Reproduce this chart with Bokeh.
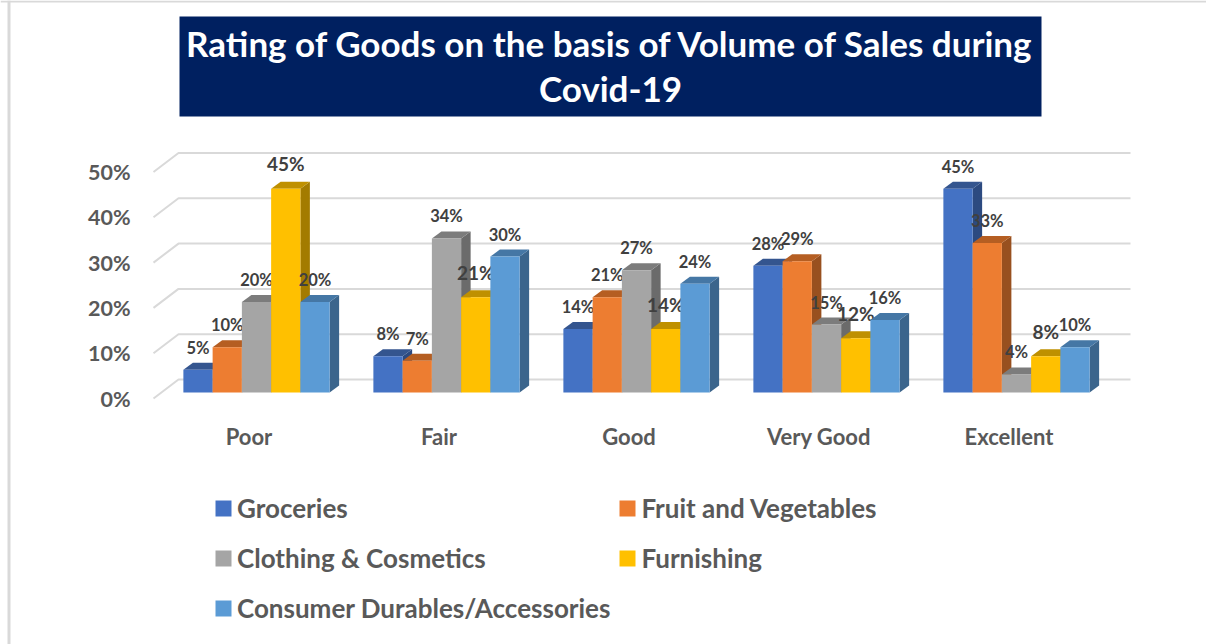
from bokeh.plotting import figure
from bokeh.embed import file_html
from bokeh.resources import INLINE
from bokeh.models import (Range1d, FixedTicker, Legend, LegendItem, Label,
                          ColumnDataSource)
from bokeh.core.properties import value

categories = ["Poor", "Fair", "Good", "Very Good", "Excellent"]
groceries = [5, 8, 14, 28, 45]
fruit_veg = [10, 7, 21, 29, 33]
clothing = [20, 34, 27, 15, 4]
furnishing = [45, 21, 14, 12, 8]
durables = [20, 30, 24, 16, 10]
y_ticks = [0, 10, 20, 30, 40, 50]
title_text = "Rating of Goods on the basis of Volume of Sales during\nCovid-19"

series = [
    ("Groceries", groceries, "#4472C4", "#34558F", "#2C4A80", "16.5px", -22),
    ("Fruit and Vegetables", fruit_veg, "#ED7D31", "#B55E22", "#98501F", "16.5px", -22),
    ("Clothing & Cosmetics", clothing, "#A5A5A5", "#7C7C7C", "#6B6B6B", "16.5px", -22),
    ("Furnishing", furnishing, "#FFC000", "#BF9000", "#A37B00", "19px", -25),
    ("Consumer Durables/Accessories", durables, "#5B9BD5", "#4577A5", "#3B658C", "16.5px", -22),
]

FONT = "Lato"
W, H = 1206, 644
PX_X = 190.0      # px per category
PX_Y = 4.53       # px per percent
X0, Y0 = 248.5, 398.0              # page px of category 0 / 0 %
def px(x): return (x - X0) / PX_X
def py(y): return (Y0 - y) / PX_Y

p = figure(width=W, height=H, output_backend="svg", toolbar_location=None,
           x_range=Range1d(px(0), px(W)), y_range=Range1d(py(H), py(0)),
           min_border=0, outline_line_color=None, background_fill_color="white")
p.title.visible = False

# chart frame (top and left rules)
p.quad(left=[px(0)], right=[px(W)], top=[py(0)], bottom=[py(2)], fill_color="#D9D9D9", line_color=None)
p.quad(left=[px(7)], right=[px(10)], top=[py(0)], bottom=[py(H)], fill_color="#D9D9D9", line_color=None)
# title banner
p.quad(left=[px(179)], right=[px(1041)], top=[py(16)], bottom=[py(116)], fill_color="#002060", line_color=None)
p.add_layout(Label(x=px(610), y=py(108.5), text=title_text, text_color="white", text_font=FONT,
                   text_font_size="35px", text_font_style="bold", text_align="center",
                   text_baseline="bottom", text_line_height=1.07))

p.grid.visible = False
ax = p.xaxis[0]
ax.fixed_location = py(402)
ax.ticker = FixedTicker(ticks=list(range(len(categories))))
ax.major_label_overrides = {i: c for i, c in enumerate(categories)}
ay = p.yaxis[0]
ay.fixed_location = px(150)
ay.ticker = FixedTicker(ticks=y_ticks)
ay.major_label_overrides = {v: f"{v}%" for v in y_ticks}
for a in (ax, ay):
    a.axis_line_color = None
    a.major_tick_line_color = None
    a.minor_tick_line_color = None
    a.major_label_text_color = "#595959"
    a.major_label_text_font = FONT
    a.major_label_text_font_style = "bold"
ax.major_label_text_font_size = "22px"
ax.major_label_standoff = 14
ay.major_label_text_font_size = "21.5px"
ay.major_label_standoff = 14

# walls: depth 25 px / 19 px
wx, wy = 25 / PX_X, 19 / PX_Y
x_left = px(153)
x_right = px(1130)
for v in y_ticks:
    p.line([x_left, x_left + wx, x_right], [v, v + wy, v + wy], line_color="#D9D9D9", line_width=2)

# bars
bw = 29.25 / PX_X
shift = 7.5 / PX_X
base = 6 / PX_Y
dx, dy = 9.5 / PX_X, 7 / PX_Y
items = []
for j, (name, vals, col, top_c, side_c, fs, off) in enumerate(series):
    lefts = [i + shift + (j - 2.5) * bw for i in range(len(vals))]
    rights = [l + bw for l in lefts]
    tops = [base + v for v in vals]
    p.patches([[r, r + dx, r + dx, r] for r in rights],
              [[base, base + dy, t + dy, t] for t in tops],
              fill_color=side_c, line_color=None)
    p.patches([[l, l + dx, r + dx, r] for l, r in zip(lefts, rights)],
              [[t, t + dy, t + dy, t] for t in tops],
              fill_color=top_c, line_color=None)
    r = p.quad(left=lefts, right=rights, bottom=base, top=tops, fill_color=col, line_color=None)
    items.append(LegendItem(label=name, renderers=[r]))
    src = ColumnDataSource(dict(x=[l + bw / 2 for l in lefts], y=tops, t=[f"{v}%" for v in vals]))
    p.text("x", "y", text="t", source=src, text_align="center", text_baseline="middle", y_offset=off,
           text_color="#404040", text_font=value(FONT), text_font_style="bold", text_font_size=fs)

leg = Legend(items=items, location=(213, 15), orientation="horizontal", ncols=2,
             glyph_width=20, glyph_height=20, label_standoff=4, padding=0, margin=0,
             spacing=7, label_height=43, border_line_color=None, background_fill_alpha=0,
             label_text_font=FONT, label_text_font_style="bold", label_text_font_size="26px",
             label_text_color="#595959")
p.add_layout(leg)

open("out.html", "w").write(file_html(p, INLINE))
